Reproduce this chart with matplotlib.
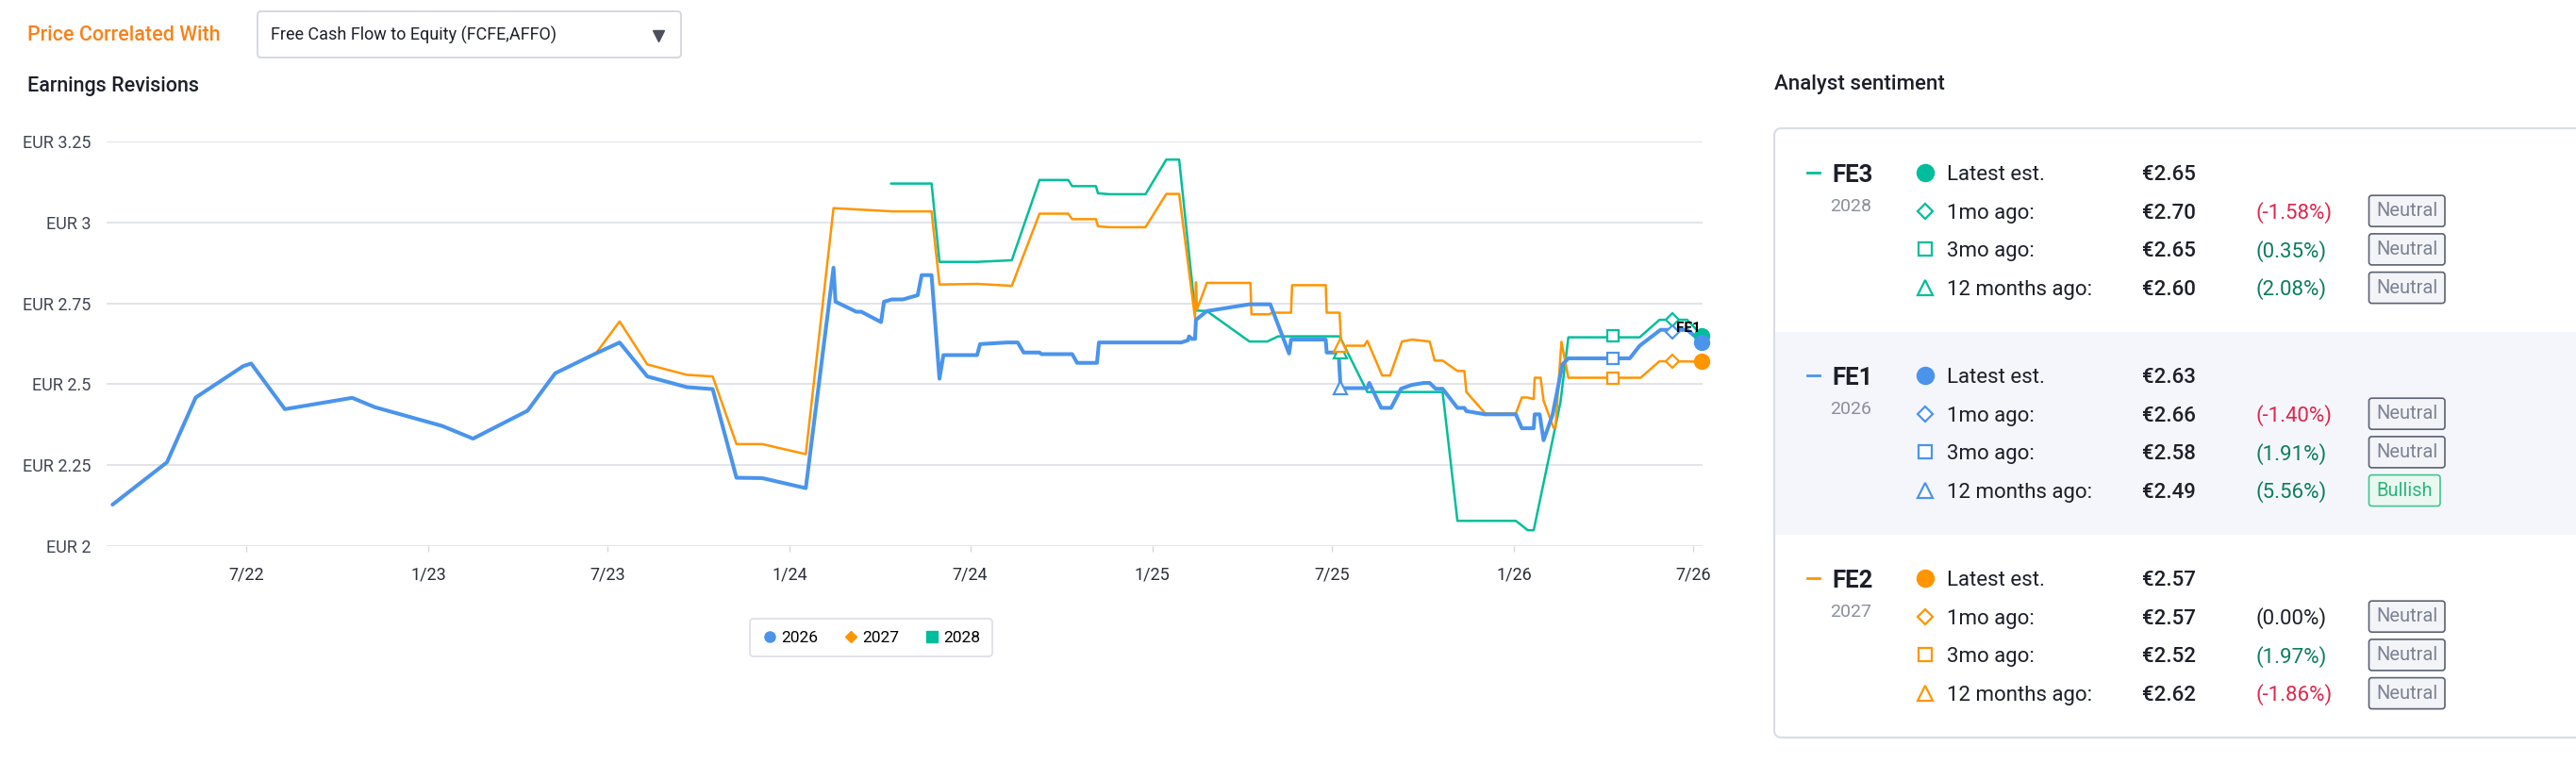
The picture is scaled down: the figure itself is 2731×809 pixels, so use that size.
import matplotlib
matplotlib.use("Agg")
import matplotlib.pyplot as plt
import matplotlib.dates as mdates
from matplotlib.patches import FancyBboxPatch, Rectangle
from matplotlib.lines import Line2D
import pandas as pd

W, H = 2731, 809
plt.rcParams['font.family'] = ['Roboto', 'DejaVu Sans']

BLUE = '#4A94EC'
ORANGE = '#FF9500'
GREEN = '#00BE9B'
GRID = '#DFE2E9'
DARK = '#1D2029'

# --- estimate history (EUR) ---
dates_2026 = ['2022-02-16', '2022-04-12', '2022-05-11', '2022-06-28', '2022-07-06', '2022-08-09',
              '2022-10-16', '2022-11-08', '2023-01-15', '2023-02-15', '2023-04-11', '2023-05-09',
              '2023-06-19', '2023-07-13', '2023-08-10', '2023-09-19', '2023-10-15', '2023-11-08',
              '2023-12-04', '2024-01-17', '2024-02-14', '2024-02-16', '2024-03-08', '2024-03-13',
              '2024-04-02', '2024-04-05', '2024-04-13', '2024-04-24', '2024-05-09', '2024-05-13',
              '2024-05-23', '2024-05-31', '2024-06-04', '2024-07-08', '2024-07-11', '2024-08-07',
              '2024-08-18', '2024-08-24', '2024-09-09', '2024-09-11', '2024-10-12', '2024-10-17',
              '2024-11-06', '2024-11-08', '2025-01-30', '2025-02-06', '2025-02-07', '2025-02-10',
              '2025-02-13', '2025-02-14', '2025-02-25', '2025-04-09', '2025-04-30', '2025-05-19',
              '2025-05-21', '2025-06-25', '2025-06-26', '2025-07-08', '2025-07-10', '2025-08-06',
              '2025-08-08', '2025-08-20', '2025-08-30', '2025-09-09', '2025-09-20', '2025-10-02',
              '2025-10-08', '2025-10-14', '2025-10-21', '2025-11-05', '2025-11-12', '2025-11-14',
              '2025-12-03', '2026-01-03', '2026-01-09', '2026-01-21', '2026-01-22', '2026-01-27',
              '2026-01-31', '2026-02-09', '2026-02-19', '2026-02-25', '2026-04-28', '2026-05-08',
              '2026-05-29', '2026-06-25', '2026-07-10']
eps_2026 = [2.128, 2.259, 2.459, 2.556, 2.564, 2.423,
            2.458, 2.429, 2.371, 2.332, 2.418, 2.534,
            2.595, 2.629, 2.524, 2.491, 2.485, 2.211,
            2.210, 2.179, 2.860, 2.755, 2.724, 2.724,
            2.692, 2.755, 2.762, 2.762, 2.775, 2.837,
            2.837, 2.517, 2.590, 2.590, 2.624, 2.629,
            2.629, 2.598, 2.598, 2.593, 2.593, 2.566,
            2.566, 2.629, 2.629, 2.636, 2.648, 2.640,
            2.640, 2.699, 2.726, 2.747, 2.747, 2.595,
            2.638, 2.638, 2.598, 2.598, 2.488, 2.488,
            2.504, 2.427, 2.427, 2.486, 2.498, 2.504,
            2.504, 2.486, 2.486, 2.427, 2.427, 2.417,
            2.407, 2.407, 2.364, 2.364, 2.407, 2.407,
            2.327, 2.405, 2.561, 2.580, 2.580, 2.619,
            2.668, 2.668, 2.630]

dates_2027 = ['2023-06-19', '2023-07-13', '2023-08-10', '2023-09-19', '2023-10-15', '2023-11-08',
              '2023-12-04', '2024-01-17', '2024-02-14', '2024-04-14', '2024-05-23', '2024-05-31',
              '2024-07-08', '2024-08-12', '2024-09-09', '2024-10-08', '2024-10-12', '2024-11-05',
              '2024-11-07', '2024-11-19', '2024-12-25', '2025-01-15', '2025-01-28', '2025-02-13',
              '2025-02-14', '2025-02-15', '2025-02-25', '2025-04-10', '2025-04-11', '2025-04-28',
              '2025-05-03', '2025-05-21', '2025-05-22', '2025-06-25', '2025-06-26', '2025-07-09',
              '2025-07-11', '2025-07-16', '2025-08-03', '2025-08-06', '2025-08-21', '2025-08-29',
              '2025-09-10', '2025-09-20', '2025-10-08', '2025-10-13', '2025-10-21', '2025-11-05',
              '2025-11-12', '2025-11-14', '2025-12-03', '2026-01-03', '2026-01-09', '2026-01-15',
              '2026-01-21', '2026-01-22', '2026-01-28', '2026-01-31', '2026-02-10', '2026-02-12',
              '2026-02-18', '2026-02-25', '2026-05-09', '2026-05-28', '2026-07-10']
eps_2027 = [2.595, 2.694, 2.561, 2.529, 2.524, 2.315,
            2.315, 2.284, 3.044, 3.034, 3.034, 2.808,
            2.810, 2.804, 3.027, 3.027, 3.010, 3.010,
            2.988, 2.985, 2.985, 3.088, 3.088, 2.706,
            2.815, 2.731, 2.813, 2.813, 2.716, 2.716,
            2.721, 2.721, 2.806, 2.806, 2.721, 2.721,
            2.600, 2.619, 2.619, 2.634, 2.527, 2.527,
            2.632, 2.638, 2.632, 2.573, 2.573, 2.541,
            2.541, 2.476, 2.410, 2.410, 2.459, 2.459,
            2.454, 2.520, 2.520, 2.449, 2.366, 2.366,
            2.631, 2.520, 2.520, 2.571, 2.570]

dates_2028 = ['2024-04-12', '2024-05-23', '2024-05-31', '2024-07-08', '2024-08-12', '2024-09-09',
              '2024-10-08', '2024-10-12', '2024-11-05', '2024-11-07', '2024-11-19', '2024-12-25',
              '2025-01-15', '2025-01-28', '2025-02-13', '2025-02-25', '2025-04-09', '2025-04-27',
              '2025-05-08', '2025-07-09', '2025-08-06', '2025-10-21', '2025-11-05', '2026-01-03',
              '2026-01-15', '2026-01-21', '2026-02-17', '2026-02-25', '2026-05-08', '2026-05-28',
              '2026-06-25', '2026-07-10']
eps_2028 = [3.120, 3.120, 2.878, 2.878, 2.883, 3.131,
            3.131, 3.112, 3.112, 3.090, 3.087, 3.087,
            3.194, 3.194, 2.728, 2.726, 2.632, 2.632,
            2.648, 2.648, 2.476, 2.476, 2.078, 2.078,
            2.049, 2.049, 2.444, 2.645, 2.645, 2.699,
            2.699, 2.650]

# --- analyst sentiment table ---
groups = ['FE3', 'FE1', 'FE2']
group_years = ['2028', '2026', '2027']
group_colors = [GREEN, BLUE, ORANGE]
row_labels = ['Latest est.', '1mo ago:', '3mo ago:', '12 months ago:']
row_markers = ['o', 'D', 's', '^']
snap_days = [0, 30, 90, 365]  # days before latest estimate
latest_date = '2026-07-10'
est_fe3 = [2.65, 2.70, 2.65, 2.60]
est_fe1 = [2.63, 2.66, 2.58, 2.49]
est_fe2 = [2.57, 2.57, 2.52, 2.62]
pct_fe3 = [-1.58, 0.35, 2.08]
pct_fe1 = [-1.40, 1.91, 5.56]
pct_fe2 = [0.00, 1.97, -1.86]
sent_fe3 = ['Neutral', 'Neutral', 'Neutral']
sent_fe1 = ['Neutral', 'Neutral', 'Bullish']
sent_fe2 = ['Neutral', 'Neutral', 'Neutral']

tick_dates = ['2022-07-01', '2023-01-01', '2023-07-01', '2024-01-01', '2024-07-01',
              '2025-01-01', '2025-07-01', '2026-01-01', '2026-07-01']
tick_labels = ['7/22', '1/23', '7/23', '1/24', '7/24', '1/25', '7/25', '1/26', '7/26']
y_ticks = [2, 2.25, 2.5, 2.75, 3, 3.25]
y_labels = ['EUR 2', 'EUR 2.25', 'EUR 2.5', 'EUR 2.75', 'EUR 3', 'EUR 3.25']

fig = plt.figure(figsize=(W / 100, H / 100), dpi=100)
fig.patch.set_facecolor('white')

# overlay in pixel units for header + side panel
ov = fig.add_axes([0, 0, 1, 1])
ov.set_xlim(0, W)
ov.set_ylim(H, 0)
ov.axis('off')

ax = fig.add_axes([113 / W, 1 - 579 / H, (1805 - 113) / W, (579 - 150) / H])
ax.set_facecolor('none')

series = [(dates_2028, eps_2028, GREEN, 1.8),
          (dates_2027, eps_2027, ORANGE, 1.8),
          (dates_2026, eps_2026, BLUE, 2.9)]
for d, v, c, lw in series:
    ax.plot(pd.to_datetime(d), v, color=c, lw=lw, solid_joinstyle='round', solid_capstyle='round')

latest = pd.Timestamp(latest_date)
snap_dates = [latest - pd.Timedelta(days=n) for n in snap_days]
chart_ms = [11.5, 7, 9, 10]
for est, c in [(est_fe3, GREEN), (est_fe1, BLUE), (est_fe2, ORANGE)]:
    for i in range(3, -1, -1):
        if i == 0:
            ax.plot(snap_dates[i], est[i], marker='o', color=c, ms=chart_ms[i], clip_on=False, zorder=5)
        else:
            ax.plot(snap_dates[i], est[i], marker=row_markers[i], mfc='white', mec=c, mew=1.6,
                    ms=chart_ms[i], ls='', zorder=4)

ax.annotate('FE1', xy=(latest, est_fe1[0]), xytext=(-1, 11), textcoords='offset points',
            ha='right', va='center', fontsize=11, weight='bold', color='black', zorder=6)

ax.set_ylim(2, 3.25)
ax.set_xlim(mdates.date2num(pd.Timestamp('2022-02-10')), mdates.date2num(latest) + 0.5)
ax.set_yticks(y_ticks)
ax.set_yticklabels(y_labels)
ax.set_xticks(mdates.date2num(pd.to_datetime(tick_dates)))
ax.set_xticklabels(tick_labels)
ax.grid(axis='y', color=GRID, lw=1.3)
ax.set_axisbelow(True)
for s in ax.spines.values():
    s.set_visible(False)
ax.tick_params(axis='y', length=0, pad=12, labelsize=13, labelcolor='#3F4552')
ax.tick_params(axis='x', length=4, width=1, color='#D3D7DF', pad=11.5, labelsize=13, labelcolor='#2B2F38')

# legend
handles = [Line2D([], [], ls='', marker='o', color=BLUE, ms=8),
           Line2D([], [], ls='', marker='D', color=ORANGE, ms=6.5),
           Line2D([], [], ls='', marker='s', color=GREEN, ms=8)]
leg = fig.legend(handles, ['2026', '2027', '2028'], loc='center', ncol=3,
                 bbox_to_anchor=(923.5 / W, 1 - 676 / H), fontsize=12.5, frameon=True,
                 fancybox=True, edgecolor='#D6D9E0', handletextpad=0.2, columnspacing=1.5,
                 handlelength=1.0, borderpad=0.7)
leg.get_frame().set_linewidth(1.3)

# header
ov.text(29, 37, 'Price Correlated With', fontsize=15.5, weight='medium', color='#F7821B', va='center')
ov.add_patch(FancyBboxPatch((273, 12), 449, 49, boxstyle='round,pad=0,rounding_size=4',
                            fc='white', ec='#D3D6DD', lw=1.3))
ov.text(287, 37, 'Free Cash Flow to Equity (FCFE,AFFO)', fontsize=13, color=DARK, va='center')
ov.plot(698, 38, marker='v', color='#4B505C', ms=9)
ov.text(29, 91, 'Earnings Revisions', fontsize=15.5, weight='medium', color=DARK, va='center')

# analyst sentiment panel
ov.text(1881, 89, 'Analyst sentiment', fontsize=16, weight='medium', color=DARK, va='center')
ov.add_patch(FancyBboxPatch((1881, 136), 900, 646, boxstyle='round,pad=0,rounding_size=8',
                            fc='white', ec='#DADDE4', lw=1.5))
ov.add_patch(Rectangle((1882, 352), 900, 215, fc='#F5F6FB', ec='none'))

all_est = [est_fe3, est_fe1, est_fe2]
all_pct = [pct_fe3, pct_fe1, pct_fe2]
all_sent = [sent_fe3, sent_fe1, sent_fe2]
panel_ms = [13, 8, 9.5, 11]
for g in range(3):
    base = 191 + g * 215
    c = group_colors[g]
    ov.plot([1916, 1929], [base - 8, base - 8], color=c, lw=2)
    ov.text(1942, base + 2, groups[g], fontsize=18.5, weight='bold', color=DARK, va='baseline')
    ov.text(1940, base + 33, group_years[g], fontsize=14, color='#8B909B', va='baseline')
    for r in range(4):
        yb = base + r * 40.7
        if r == 0:
            ov.plot(2041, yb - 8, marker='o', color=c, ms=panel_ms[r])
        else:
            ov.plot(2041, yb - 8, marker=row_markers[r], mfc='white', mec=c, mew=1.6, ms=panel_ms[r])
        ov.text(2064, yb, row_labels[r], fontsize=16, color=DARK, va='baseline')
        ov.text(2271, yb, '€%.2f' % all_est[g][r], fontsize=16, weight='medium', color=DARK, va='baseline')
        if r > 0:
            p = all_pct[g][r - 1]
            pc = '#E0264B' if p < 0 else ('#0B7E5B' if p > 0 else DARK)
            ov.text(2392, yb, '(%.2f%%)' % p, fontsize=16, color=pc, va='baseline')
            s = all_sent[g][r - 1]
            if s == 'Bullish':
                bw, fc, ec, tc = 75.5, '#EAF8F1', '#43C58F', '#2DB57C'
            else:
                bw, fc, ec, tc = 80.5, '#F3F4F8', '#5B6272', '#7C8392'
            ov.add_patch(FancyBboxPatch((2511.5, yb - 8 - 16.5), bw, 33,
                                        boxstyle='round,pad=0,rounding_size=3', fc=fc, ec=ec, lw=1.2))
            ov.text(2511.5 + bw / 2, yb - 8, s, fontsize=14.5, color=tc, ha='center', va='center')

fig.savefig('out.png', dpi=100, facecolor='white')
